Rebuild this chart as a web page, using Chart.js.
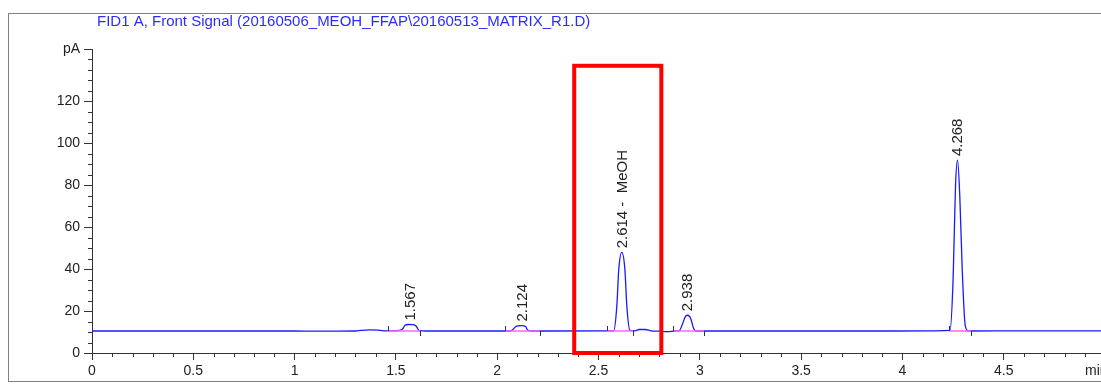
<!DOCTYPE html>
<html>
<head>
<meta charset="utf-8">
<script src="https://cdn.jsdelivr.net/npm/chart.js@4"></script>
<style>
html,body{margin:0;padding:0;background:#fff;}
#wrap{position:relative;width:1101px;height:385px;overflow:hidden;}
#frame{position:absolute;left:8px;top:13px;width:1200px;height:367px;border:1px solid #808080;}
canvas{position:absolute;left:0;top:0;}
</style>
</head>
<body>
<div id="wrap"><div id="frame"></div><canvas id="chrom" width="1101" height="385"></canvas></div>
<script>
// signal (min, pA)
const rtMin = [0, 0.6, 1.0, 1.1, 1.3, 1.33, 1.37, 1.41, 1.44, 1.5, 1.53, 1.545, 1.56, 1.585, 1.6, 1.615, 1.65,
  2.06, 2.075, 2.095, 2.12, 2.14, 2.152, 2.17,
  2.575, 2.59, 2.6, 2.615, 2.63, 2.64, 2.655, 2.68, 2.70, 2.73, 2.76, 2.80, 2.84, 2.88,
  2.90, 2.915, 2.93, 2.94, 2.955, 2.968, 2.978, 3.0,
  3.95, 4.235, 4.25, 4.262, 4.272, 4.283, 4.295, 4.31, 4.325, 4.6, 4.98];
const signalPA = [10.5, 10.5, 10.5, 10.4, 10.5, 10.8, 11.0, 10.9, 10.6, 10.7, 11.2, 13.2, 13.6, 13.5, 12.8, 10.7, 10.5,
  10.5, 11.0, 12.8, 13.1, 12.6, 10.8, 10.5,
  10.6, 22, 40, 48, 40, 22, 10.8, 10.6, 11.2, 11.2, 10.6, 10.4, 10.2, 10.5,
  10.8, 14, 17.6, 18, 16.5, 12, 10.6, 10.5,
  10.5, 10.8, 35, 80, 92, 75, 40, 13, 10.5, 10.6, 10.6];

// integrated peaks
const peakRT = [1.567, 2.124, 2.614, 2.938, 4.268];
const peakLabels = ['1.567', '2.124', '2.614 -  MeOH', '2.938', '4.268'];
const peakTop = [13.6, 13.1, 48, 18, 92];
const peakStart = [1.46, 2.04, 2.54, 2.87, 4.23];
const peakEnd = [1.62, 2.21, 2.67, 3.02, 4.34];
const baseLevel = 10.5;

// y tick labels (pA at the top of the axis)
const yLabelled = [0, 20, 40, 60, 80, 100, 120];
const yTop = 145;

// highlighted region
const boxRT = [2.38, 2.81];
const boxPA = [0, 137];

const titleText = 'FID1 A, Front Signal (20160506_MEOH_FFAP\\20160513_MATRIX_R1.D)';
const FONT = '"Liberation Sans", Arial, sans-serif';

let points = rtMin.map((t, i) => ({x: t, y: signalPA[i]}));
let isHalf = v => Math.abs(v * 2 - Math.round(v * 2)) < 1e-6;
let isMajorY = v => yLabelled.includes(v) || v === yTop;

const chromExtras = {
  id: 'chromExtras',
  afterDatasetsDraw(chart) {
    let ctx = chart.ctx;
    let x = chart.scales.x, y = chart.scales.y;
    ctx.save();
    let yb = y.getPixelForValue(baseLevel);
    for (let i = 0; i < peakRT.length; i++) {
      ctx.strokeStyle = '#ff66ff';
      ctx.lineWidth = 1.5;
      ctx.beginPath();
      ctx.moveTo(x.getPixelForValue(peakStart[i]), yb);
      ctx.lineTo(x.getPixelForValue(peakEnd[i]), yb);
      ctx.stroke();
      // start / end markers
      ctx.strokeStyle = '#333';
      ctx.lineWidth = 1;
      let xs = Math.round(x.getPixelForValue(peakStart[i])) + 0.5;
      let xe = Math.round(x.getPixelForValue(peakEnd[i])) + 0.5;
      ctx.beginPath();
      ctx.moveTo(xs, yb); ctx.lineTo(xs, yb - 5);
      ctx.moveTo(xe, yb); ctx.lineTo(xe, yb + 5);
      ctx.stroke();
      // rotated label
      ctx.save();
      ctx.translate(x.getPixelForValue(peakRT[i]) + 1, y.getPixelForValue(peakTop[i]) - 4);
      ctx.rotate(-Math.PI / 2);
      ctx.font = '15px ' + FONT;
      ctx.fillStyle = '#222';
      ctx.textAlign = 'left';
      ctx.textBaseline = 'middle';
      ctx.fillText(peakLabels[i], 0, 0);
      ctx.restore();
    }
    ctx.restore();
  },
  afterDraw(chart) {
    let ctx = chart.ctx;
    let x = chart.scales.x, y = chart.scales.y;
    ctx.save();
    // minor ticks
    ctx.strokeStyle = '#333';
    ctx.lineWidth = 1;
    ctx.beginPath();
    x.ticks.forEach(t => {
      if (!isHalf(t.value)) {
        let px = Math.round(x.getPixelForValue(t.value)) + 0.5;
        ctx.moveTo(px, x.top); ctx.lineTo(px, x.top + 4);
      }
    });
    y.ticks.forEach(t => {
      if (!isMajorY(t.value)) {
        let py = Math.round(y.getPixelForValue(t.value)) + 0.5;
        ctx.moveTo(y.right, py); ctx.lineTo(y.right - 4, py);
      }
    });
    ctx.stroke();
    // red box
    ctx.strokeStyle = '#ff0000';
    ctx.lineWidth = 4;
    let x0 = x.getPixelForValue(boxRT[0]), x1 = x.getPixelForValue(boxRT[1]);
    let y0 = y.getPixelForValue(boxPA[1]), y1 = y.getPixelForValue(boxPA[0]);
    ctx.strokeRect(x0, y0, x1 - x0, y1 - y0);
    // title
    ctx.fillStyle = '#2b2bff';
    ctx.font = '15px ' + FONT;
    ctx.textAlign = 'left';
    ctx.textBaseline = 'middle';
    ctx.fillText(titleText, 97, 22);
    // unit
    ctx.font = '14px ' + FONT;
    ctx.fillStyle = '#222';
    ctx.fillText('min', 1085, 371);
    ctx.restore();
  }
};

new Chart(document.getElementById('chrom'), {
  type: 'line',
  data: {
    datasets: [{
      data: points,
      borderColor: '#1a1aff',
      borderWidth: 1.3,
      pointRadius: 0,
      cubicInterpolationMode: 'monotone',
      fill: false
    }]
  },
  options: {
    responsive: false,
    animation: false,
    layout: {padding: {top: 49, right: 0, left: 0, bottom: 0}},
    plugins: {legend: {display: false}, tooltip: {enabled: false}},
    scales: {
      x: {
        type: 'linear',
        min: 0,
        max: 4.98,
        afterFit: s => { s.height = 32; },
        border: {color: '#333', width: 1},
        grid: {
          drawOnChartArea: false,
          tickLength: 7,
          tickColor: ctx => isHalf(ctx.tick.value) ? '#333' : 'rgba(0,0,0,0)'
        },
        ticks: {
          stepSize: 0.1,
          includeBounds: false,
          autoSkip: false,
          maxRotation: 0,
          padding: 3,
          color: '#222',
          font: {family: FONT, size: 14},
          callback: v => isHalf(v) ? String(Math.round(v * 10) / 10) : ''
        }
      },
      y: {
        min: 0,
        max: yTop,
        afterFit: s => { s.width = 92; },
        border: {color: '#333', width: 1},
        grid: {
          drawOnChartArea: false,
          tickLength: 8,
          tickColor: ctx => isMajorY(ctx.tick.value) ? '#333' : 'rgba(0,0,0,0)'
        },
        ticks: {
          stepSize: 5,
          autoSkip: false,
          padding: 4,
          color: '#222',
          font: {family: FONT, size: 14},
          callback: v => v === yTop ? 'pA' : (yLabelled.includes(v) ? v : '')
        }
      }
    }
  },
  plugins: [chromExtras]
});
</script>
</body>
</html>
